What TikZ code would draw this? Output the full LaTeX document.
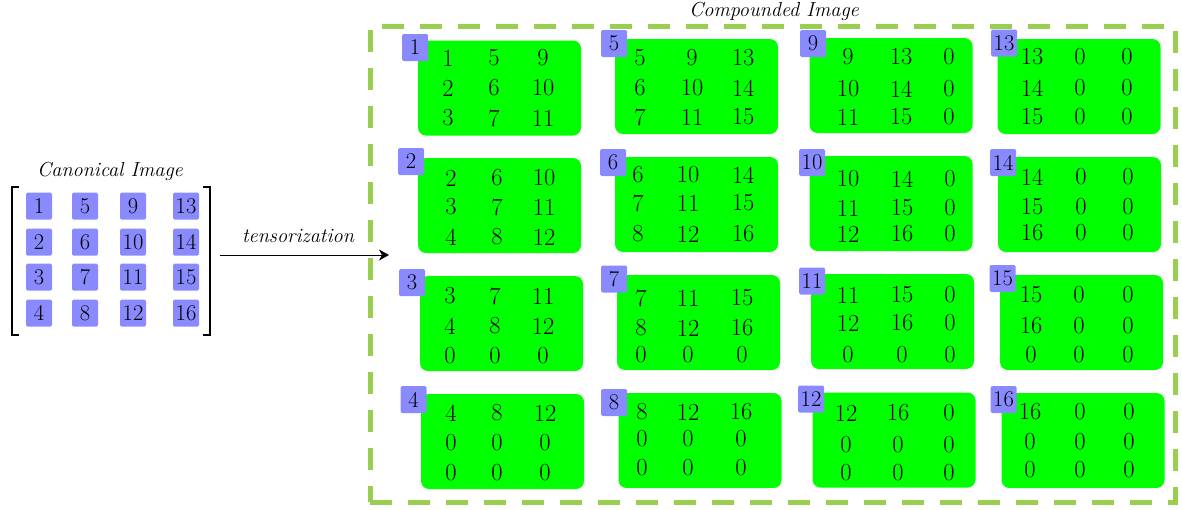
\documentclass[tikz,border=0pt]{standalone}
\usepackage{fontspec}
\usetikzlibrary{arrows.meta}
\definecolor{boxgreen}{RGB}{0,255,0}
\definecolor{tagblue}{RGB}{138,138,255}
\definecolor{framegreen}{RGB}{154,206,80}
\begin{document}
\begin{tikzpicture}[x=1pt,y=-1pt,
 gbox/.style={fill=boxgreen, rounded corners=8pt, minimum width=163pt, minimum height=95pt, inner sep=0pt},
 tagsq/.style={fill=tagblue, rounded corners=1.5pt, minimum width=26pt, minimum height=27pt, inner sep=0pt, font=\fontsize{22.5}{26}\selectfont},
 num/.style={inner sep=0pt, font=\fontsize{24.5}{29}\selectfont},
 lbl/.style={font=\fontsize{20.3}{24}\selectfont\itshape, inner sep=0pt, anchor=base},
 brk/.style={line width=2.4pt},
 cframe/.style={draw=framegreen, line width=5pt, dash pattern=on 22pt off 16pt, minimum width=805pt, minimum height=476pt, inner sep=0pt}]
\useasboundingbox (0,0) rectangle (1182,509);

% canonical image
\node[lbl] (canlbl) at (110,176) {Canonical Image};
\foreach \col/\cx in {0/39,1/85,2/133,3/186}{
  \foreach \row/\cy in {0/206,1/242,2/277,3/313}{
    \pgfmathtruncatemacro{\k}{4*\col+\row+1}
    \node[tagsq] (c\k) at (\cx,\cy) {\k};
  }
}
\draw[brk] (19,187) -- (12,187) -- (12,335) -- (19,335);
\draw[brk] (203,187) -- (210,187) -- (210,335) -- (203,335);

% arrow
\coordinate (aS) at (220,255);
\coordinate (aE) at (389,255);
\draw[-{Stealth[length=10pt,width=11pt,inset=3pt]}, line width=1pt] (aS) -- (aE);
\node[lbl] (tens) at (298,242) {tensorization};

% compounded frame
\node[cframe] (frame) at (772.5,264) {};
\node[lbl] (complbl) at (774,16) {Compounded Image};

\foreach \id/\bx/\by/\tx/\ty/\xa/\xb/\xc/\ya/\yb/\yc/\vA/\vB/\vC/\vD/\vE/\vF/\vG/\vH/\vI in {
 1/499.5/88/415/47.5/448/494/543/58/88/118/1/5/9/2/6/10/3/7/11,
 5/696.5/86.5/614/43.5/640/692/743/58/88/117/5/9/13/6/10/14/7/11/15,
 9/891/85.5/813/43.5/848/901/949/57/89/117/9/13/0/10/14/0/11/15/0,
 13/1079/86.5/1004/43/1032/1080/1127/57/88/117/13/0/0/14/0/0/15/0/0,
 2/499.5/205.5/411/161.5/451/497/544/178/207/237/2/6/10/3/7/11/4/8/12,
 6/696.5/204.5/613/162.5/638/688/743/175/203/234/6/10/14/7/11/15/8/12/16,
 10/891/203.5/812/162.5/848/902/950/179/208/234/10/14/0/11/15/0/12/16/0,
 14/1079.5/204.5/1003/162.5/1032/1081/1128/177/207/233/14/0/0/15/0/0/16/0/0,
 3/501.5/323.5/412/282.5/450/495/543/296/326/356/3/7/11/4/8/12/0/0/0,
 7/698.5/322.5/614/279/641/688/742/298/328/355/7/11/15/8/12/16/0/0/0,
 11/892.5/321.5/812/281/848/902/950/295/323/355/11/15/0/12/16/0/0/0/0,
 15/1081.5/322.5/1002.5/278.5/1031/1079/1128/295/326/355/15/0/0/16/0/0/0/0/0,
 4/502.5/441.5/413.5/399.5/451/497/545/413/443/473/4/8/12/0/0/0/0/0/0,
 8/700/440.5/614/402.5/642/688/741/412/439/468/8/12/16/0/0/0/0/0/0,
 12/894/440/811/399/846/898/949/413/445/473/12/16/0/0/0/0/0/0/0,
 16/1083/440.5/1003.5/399.5/1030/1080/1129/412/442/470/16/0/0/0/0/0/0/0/0}{
  \node[gbox] (b\id) at (\bx,\by) {};
  \node[tagsq] (t\id) at (\tx,\ty) {\id};
  \node[num] (n\id-1) at (\xa,\ya) {\vA};
  \node[num] (n\id-2) at (\xb,\ya) {\vB};
  \node[num] (n\id-3) at (\xc,\ya) {\vC};
  \node[num] (n\id-4) at (\xa,\yb) {\vD};
  \node[num] (n\id-5) at (\xb,\yb) {\vE};
  \node[num] (n\id-6) at (\xc,\yb) {\vF};
  \node[num] (n\id-7) at (\xa,\yc) {\vG};
  \node[num] (n\id-8) at (\xb,\yc) {\vH};
  \node[num] (n\id-9) at (\xc,\yc) {\vI};
}
\end{tikzpicture}
\end{document}
